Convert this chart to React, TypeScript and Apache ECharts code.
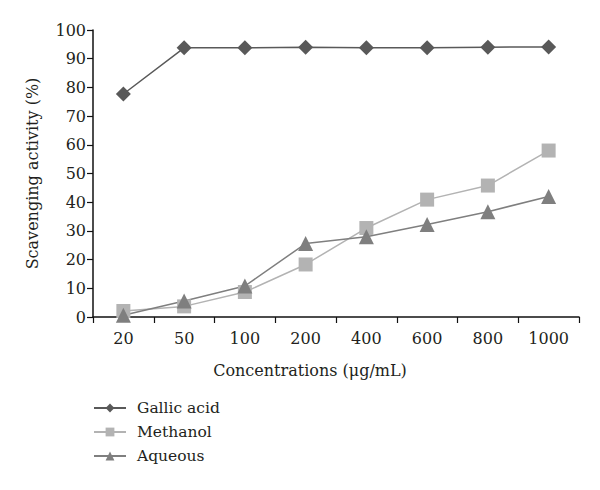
import React, { useEffect, useRef } from "react";
import * as echarts from "echarts";

const categories = ["20", "50", "100", "200", "400", "600", "800", "1000"];
const gallicAcid = [77.7, 93.8, 93.8, 94.0, 93.8, 93.8, 94.0, 94.1];
const methanol = [2.1, 3.7, 8.7, 18.3, 31.0, 40.9, 45.8, 58.0];
const aqueous = [0.6, 5.6, 10.8, 25.6, 28.0, 32.2, 36.7, 42.0];
const yTicks = { min: 0, max: 100, interval: 10 };

const FONT = "'DejaVu Serif', 'Liberation Serif', serif";
const TEXT = "#231f20";

export default function App() {
  const ref = useRef<HTMLDivElement>(null);
  useEffect(() => {
    if (!ref.current) return;
    const chart = echarts.init(ref.current, undefined, { renderer: "svg" });
    chart.setOption({
      animation: false,
      backgroundColor: "#ffffff",
      grid: { left: 93, right: 21, top: 30, bottom: 173, containLabel: false },
      xAxis: {
        type: "category",
        data: categories,
        boundaryGap: true,
        name: "Concentrations (μg/mL)",
        nameLocation: "middle",
        nameGap: 45,
        nameTextStyle: { fontFamily: FONT, fontSize: 16, color: TEXT, padding: [0, 52, 0, 0] },
        axisLine: { lineStyle: { color: "#111", width: 1.5 } },
        axisTick: { show: true, inside: false, length: 6, alignWithLabel: false, lineStyle: { color: "#111", width: 1.2 } },
        axisLabel: { fontFamily: FONT, fontSize: 16, color: TEXT, margin: 13 },
        splitLine: { show: false },
      },
      yAxis: {
        type: "value",
        min: yTicks.min,
        max: yTicks.max,
        interval: yTicks.interval,
        name: "Scavenging activity (%)",
        nameLocation: "middle",
        nameGap: 53,
        nameRotate: 90,
        nameTextStyle: { fontFamily: FONT, fontSize: 16, color: TEXT },
        axisLine: { show: true, lineStyle: { color: "#111", width: 1.5 } },
        axisTick: { show: true, inside: false, length: 6, lineStyle: { color: "#111", width: 1.2 } },
        axisLabel: { fontFamily: FONT, fontSize: 16, color: TEXT, margin: 7 },
        splitLine: { show: false },
      },
      legend: {
        orient: "vertical",
        left: 88,
        top: 395,
        itemWidth: 32,
        itemHeight: 11,
        itemGap: 8,
        textStyle: { fontFamily: FONT, fontSize: 15.5, color: TEXT, padding: [0, 0, 0, 6] },
        data: ["Gallic acid", "Methanol", "Aqueous"],
      },
      series: [
        {
          name: "Gallic acid",
          type: "line",
          data: gallicAcid,
          symbol: "diamond",
          symbolSize: 15,
          color: "#595959",
          lineStyle: { color: "#595959", width: 1.5 },
          itemStyle: { color: "#595959" },
        },
        {
          name: "Methanol",
          type: "line",
          data: methanol,
          symbol: "rect",
          symbolSize: 14,
          color: "#b3b3b3",
          lineStyle: { color: "#b3b3b3", width: 1.5 },
          itemStyle: { color: "#b3b3b3" },
        },
        {
          name: "Aqueous",
          type: "line",
          data: aqueous,
          symbol: "triangle",
          symbolSize: 15,
          color: "#7f7f7f",
          lineStyle: { color: "#7f7f7f", width: 1.5 },
          itemStyle: { color: "#7f7f7f" },
        },
      ],
    });
    return () => chart.dispose();
  }, []);
  return <div ref={ref} style={{ width: 600, height: 490, position: "absolute", left: 0, top: 0 }} />;
}
